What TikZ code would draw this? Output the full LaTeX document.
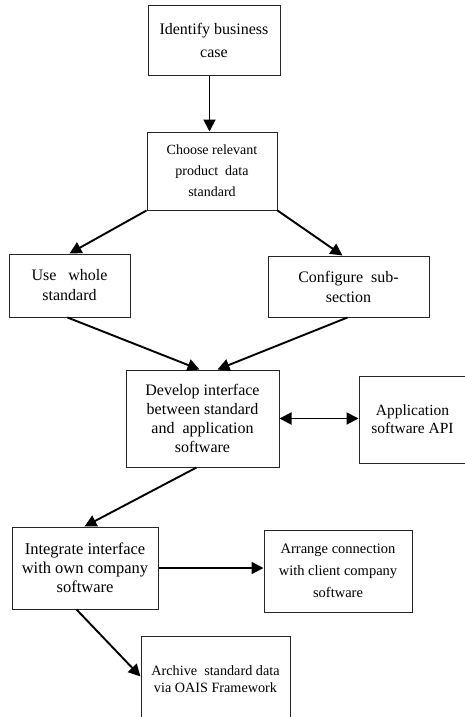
\documentclass[tikz,border=0pt]{standalone}
\usepackage{fontspec}
\setmainfont{Liberation Serif}
\usetikzlibrary{arrows.meta}
\begin{document}
\begin{tikzpicture}[x=1pt,y=-1pt,
 box/.style={draw=black!85, line width=1pt, inner sep=0pt, align=center, anchor=center},
 arr/.style={line width=1.9pt, -{Triangle[length=12pt,width=12pt]}},
 darr/.style={line width=1.9pt, {Triangle[length=12pt,width=12pt]}-{Triangle[length=12pt,width=12pt]}}]
\useasboundingbox (0,0) rectangle (465,717);
\clip (0,0) rectangle (465,717);
\node[box, minimum width=132pt, minimum height=69pt, font=\fontsize{16}{23}\selectfont] (b1) at (214,40.5) {Identify business\\case};
\node[box, minimum width=130pt, minimum height=78pt, font=\fontsize{14}{21}\selectfont] (b2) at (212,171) {Choose relevant\\product~ data\\standard};
\node[box, minimum width=121pt, minimum height=63pt, font=\fontsize{16}{20}\selectfont] (b3) at (69.5,285.5) {Use~~ whole\\standard};
\node[box, minimum width=161pt, minimum height=61pt, font=\fontsize{16}{20}\selectfont] (b4) at (348.5,286.5) {Configure~ sub-\\section};
\node[box, minimum width=153pt, minimum height=97pt, font=\fontsize{16}{19}\selectfont] (b5) at (202.5,418.5) {Develop interface\\between standard\\and~ application\\software};
\node[box, minimum width=107pt, minimum height=87pt, font=\fontsize{15.5}{18}\selectfont] (b6) at (412.5,419.5) {Application\\software API};
\node[box, minimum width=146pt, minimum height=82pt, font=\fontsize{16.5}{19}\selectfont] (b7) at (85,568) {Integrate interface\\with own company\\software};
\node[box, minimum width=148pt, minimum height=82pt, font=\fontsize{14.5}{22}\selectfont] (b8) at (338,571) {Arrange connection\\with client company\\software};
\node[box, minimum width=149pt, minimum height=86pt, font=\fontsize{14.2}{16.5}\selectfont] (b9) at (215.5,679) {Archive~ standard data\\via OAIS Framework};
\coordinate (a1s) at ([xshift=62pt]b1.south west);
\draw[arr] (a1s) -- (a1s |- b2.north);
\draw[arr] (b2.south west) -- ([xshift=61pt]b3.north west);
\draw[arr] (b2.south east) -- ([xshift=75pt]b4.north west);
\draw[arr] ([xshift=59pt]b3.south west) -- ([xshift=74pt]b5.north west);
\draw[arr] ([xshift=80pt]b4.south west) -- ([xshift=92pt]b5.north west);
\draw[darr] (b5.east) -- (b5.east -| b6.west);
\draw[arr] ([xshift=71pt]b5.south west) -- ([xshift=73pt]b7.north west);
\draw[arr] (b7.east) -- (b7.east -| b8.west);
\draw[arr] ([xshift=65pt]b7.south west) -- ([yshift=-41pt]b9.north west);
\end{tikzpicture}
\end{document}
